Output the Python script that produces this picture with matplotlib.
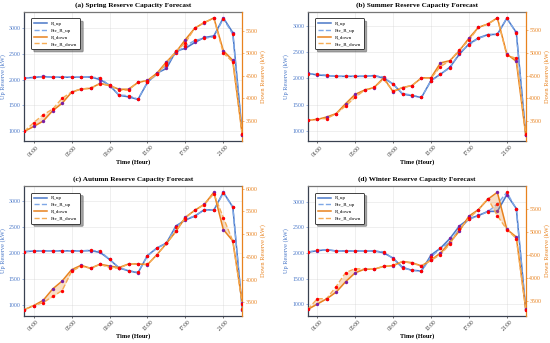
# Seasonal reserve capacity forecast: actual vs predicted up/down reserve.

import numpy as np
import matplotlib
matplotlib.use('Agg')
import matplotlib.pyplot as plt

# --------------------------- DATA ---------------------------

hours = list(range(24))
tick_hours = [1, 5, 9, 13, 17, 21]
tick_labels = ['%02d:00' % h for h in tick_hours]

seasons = ['Spring', 'Summer', 'Autumn', 'Winter']
panel_tags = ['(a)', '(b)', '(c)', '(d)']

# Spring
spring_up = [2030, 2040, 2060, 2045, 2045, 2045, 2045, 2050, 2000, 1890, 1695, 1665, 1615, 1945, 2125, 2215, 2550, 2605, 2720, 2815, 2845, 3195, 2910, 940]
spring_pre_up = [2030, 2040, 2055, 2045, 2045, 2045, 2045, 2045, 2035, 1880, 1700, 1690, 1620, 1950, 2100, 2280, 2520, 2650, 2760, 2800, 2830, 3180, 2880, 920]
spring_down = [3265, 3375, 3495, 3725, 3890, 4135, 4205, 4220, 4330, 4280, 4200, 4200, 4350, 4395, 4555, 4805, 5020, 5300, 5555, 5675, 5780, 5055, 4840, 3180]
spring_pre_down = [3265, 3460, 3635, 3760, 4000, 4140, 4205, 4225, 4320, 4290, 4180, 4180, 4360, 4390, 4530, 4780, 5040, 5230, 5560, 5680, 5770, 5000, 4805, 3200]

# Summer
summer_up = [2100, 2065, 2055, 2040, 2040, 2040, 2040, 2055, 2005, 1895, 1700, 1670, 1635, 1960, 2080, 2215, 2465, 2660, 2775, 2840, 2845, 3150, 2880, 910]
summer_pre_up = [2090, 2080, 2060, 2040, 2040, 2040, 2045, 2050, 2030, 1890, 1710, 1680, 1640, 1950, 2090, 2200, 2490, 2640, 2770, 2830, 2845, 3160, 2870, 915]
summer_down = [3515, 3530, 3585, 3660, 3880, 4085, 4180, 4235, 4450, 4145, 4235, 4280, 4450, 4450, 4780, 4830, 5050, 5325, 5565, 5640, 5775, 4975, 4815, 3180]
summer_pre_down = [3510, 3545, 3550, 3660, 3830, 4020, 4180, 4240, 4420, 4160, 4235, 4280, 4450, 4440, 4700, 4830, 5070, 5280, 5565, 5640, 5770, 4950, 4880, 3200]

# Autumn
autumn_up = [2030, 2040, 2045, 2045, 2045, 2045, 2045, 2050, 2015, 1880, 1715, 1660, 1620, 1955, 2100, 2195, 2525, 2640, 2715, 2840, 2830, 3175, 2890, 910]
autumn_pre_up = [2030, 2040, 2045, 2045, 2045, 2045, 2045, 2055, 2040, 1880, 1720, 1665, 1630, 1950, 2095, 2200, 2500, 2650, 2720, 2835, 2830, 3160, 2890, 920]
autumn_down = [3340, 3430, 3545, 3795, 3970, 4220, 4315, 4250, 4340, 4300, 4265, 4345, 4345, 4330, 4550, 4795, 5060, 5370, 5525, 5655, 5920, 5100, 4850, 3485]
autumn_pre_down = [3340, 3430, 3495, 3630, 3760, 4185, 4295, 4250, 4335, 4265, 4250, 4345, 4345, 4335, 4545, 4800, 5065, 5360, 5530, 5650, 5890, 5365, 4850, 3470]

# Winter
winter_up = [2015, 2045, 2065, 2040, 2040, 2040, 2040, 2040, 2005, 1900, 1720, 1660, 1650, 1960, 2095, 2285, 2530, 2670, 2735, 2815, 2815, 3140, 2870, 890]
winter_pre_up = [2020, 2050, 2065, 2040, 2040, 2040, 2040, 2040, 2025, 1890, 1705, 1665, 1645, 1920, 2090, 2210, 2470, 2660, 2730, 2810, 2960, 3190, 2860, 895]
winter_down = [3325, 3440, 3555, 3700, 3925, 4115, 4195, 4195, 4255, 4270, 4360, 4335, 4265, 4390, 4545, 4770, 5020, 5340, 5480, 5705, 5855, 5055, 4890, 3325]
winter_pre_down = [3325, 3555, 3560, 3820, 4120, 4205, 4195, 4195, 4255, 4280, 4360, 4320, 4265, 4385, 4510, 4740, 5060, 5290, 5480, 5720, 5350, 5050, 4855, 3320]

season_data = {
    'Spring': (spring_up, spring_pre_up, spring_down, spring_pre_down),
    'Summer': (summer_up, summer_pre_up, summer_down, summer_pre_down),
    'Autumn': (autumn_up, autumn_pre_up, autumn_down, autumn_pre_down),
    'Winter': (winter_up, winter_pre_up, winter_down, winter_pre_down),
}

# --------------------------- STYLE ---------------------------

plt.rcParams['font.family'] = ['Liberation Serif', 'DejaVu Serif']

c_up = '#4a78c8'
c_pre_up = '#7fa8e6'
c_down = '#e8821e'
c_pre_down = '#f6ad55'
c_spine = '#3a4150'

# --------------------------- PLOT ---------------------------

fig, axs = plt.subplots(2, 2, figsize=(5.5, 3.43), dpi=100)
fig.subplots_adjust(left=0.044, right=0.956, top=0.965, bottom=0.08, wspace=0.30, hspace=0.35)

for ax, season, tag in zip(axs.flat, seasons, panel_tags):
    up, pre_up, down, pre_down = [np.array(v) for v in season_data[season]]
    ax2 = ax.twinx()

    # Up reserve on the left axis.
    l1, = ax.plot(hours, up, color=c_up, lw=1.1, label='R_up', zorder=3)
    l2, = ax.plot(hours, pre_up, color=c_pre_up, lw=1.0, ls='--', label='Pre_R_up', zorder=3)
    ax.fill_between(hours, up, pre_up, color=c_up, alpha=0.2, lw=0)
    ax.scatter(hours, up, s=6, color='#7b1fa2', zorder=4, lw=0)
    ax.scatter(hours, pre_up, s=6, color='red', zorder=5, lw=0)

    # Down reserve on the right axis.
    l3, = ax2.plot(hours, down, color=c_down, lw=1.1, label='R_down', zorder=3)
    l4, = ax2.plot(hours, pre_down, color=c_pre_down, lw=1.0, ls='--', label='Pre_R_down', zorder=3)
    ax2.fill_between(hours, down, pre_down, color=c_down, alpha=0.25, lw=0)
    ax2.scatter(hours, down, s=6, color='#7b1fa2', zorder=4, lw=0)
    ax2.scatter(hours, pre_down, s=6, color='red', zorder=5, lw=0)

    ax.set_xlim(0, 23)
    ax.set_xticks(tick_hours)
    ax.set_xticklabels(tick_labels, rotation=45, fontsize=4, color='#333333')
    ax.tick_params(axis='x', length=1.5, width=0.4, pad=1)
    ax.tick_params(axis='y', labelsize=4.2, colors=c_up, length=1.5, width=0.4, pad=1)
    ax2.tick_params(axis='y', labelsize=4.2, colors=c_down, length=1.5, width=0.4, pad=1)

    ax.set_xlabel('Time (Hour)', fontsize=4.6, fontweight='bold', labelpad=1)
    ax.set_ylabel('Up Reserve (kW)', fontsize=4.6, color=c_up, labelpad=2)
    ax2.set_ylabel('Down Reserve (kW)', fontsize=4.6, color=c_down, labelpad=2)
    ax.set_title('%s %s Reserve Capacity Forecast' % (tag, season), fontsize=5.2, fontweight='bold', pad=4)

    ax.grid(True, color='#d0d0d0', lw=0.4, alpha=0.6)

    for name in ['left', 'bottom', 'top']:
        ax.spines[name].set_color(c_spine)
        ax.spines[name].set_linewidth(0.9)
        ax2.spines[name].set_visible(False)
    ax.spines['top'].set_color('#777777')
    ax.spines['right'].set_visible(False)
    ax2.spines['right'].set_color(c_down)
    ax2.spines['right'].set_linewidth(0.9)

    leg = ax2.legend(handles=[l1, l2, l3, l4], loc='upper left', fontsize=3.6,
                     frameon=True, shadow=True, fancybox=True, handlelength=2.6,
                     borderpad=0.6, labelspacing=0.45, bbox_to_anchor=(0.02, 0.97))
    leg.get_frame().set_edgecolor('#222222')
    leg.get_frame().set_linewidth(0.6)

fig.savefig('out.png', dpi=100)
